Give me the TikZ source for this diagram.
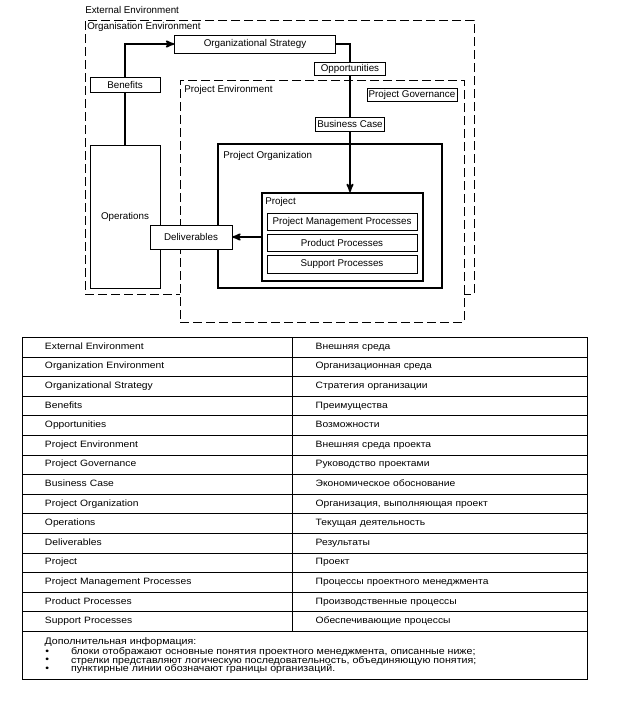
\documentclass[tikz,border=0pt]{standalone}
\usepackage{fontspec}
\setmainfont{Liberation Sans}
\newfontfamily\tabfont[FakeStretch=1.12]{Liberation Sans}
\usepackage{tikz}
\usetikzlibrary{arrows}

\begin{document}
\begin{tikzpicture}[x=1pt,y=-1pt,>=stealth',semithick,auto,node distance=19.6pt]
\tikzstyle{box}=[draw=black,fill=white,line width=0.7pt,inner sep=1pt]
\tikzstyle{env}=[draw=black,line width=0.9pt,dash pattern=on 9pt off 4pt]
\tikzstyle{frame}=[draw=black,fill=white,line width=1.8pt,inner sep=0pt]
\tikzstyle{flow}=[line width=1.8pt]
\tikzstyle{lbl}=[anchor=west,inner sep=0pt]
\tikzstyle{cell}=[inner sep=0pt,text width=240pt,align=left,text height=7pt,text depth=2.5pt,font=\tabfont\fontsize{9.2pt}{10}\selectfont]
\tikzset{font=\fontsize{9.8pt}{11}\selectfont}

\useasboundingbox (0,0) rectangle (619,702);

        % environments
        \node[env, minimum width=389pt, minimum height=274pt]              (orgenv)  at (279.5,157)  {};
        \node[env, fill=white, minimum width=284pt, minimum height=242pt]  (projenv) at (322,201)    {};
        \node[lbl]   (extlbl)  at (85,10)   {External Environment};
        \node[lbl]   (orglbl)  at (87,27)   {Organisation Environment};
        \node[lbl]   (projenvlbl) at (184,90) {Project Environment};

        % project organization and project
        \node[frame, minimum width=224pt, minimum height=144pt]   (porg)  at (330,216)   {};
        \node[lbl]   (porglbl)  at (223,156)  {Project Organization};
        \node[frame, minimum width=161pt, minimum height=88pt]    (proj)  at (342.5,237) {};
        \node[lbl]   (projlbl)  at (265,202)  {Project};
        \node[box, minimum width=150pt, minimum height=17pt]      (pmp)   at (342,221.5) {Project Management Processes};
        \node[box, minimum width=150pt, minimum height=17pt]      (prod)  at (342,242.5) {Product Processes};
        \node[box, minimum width=150pt, minimum height=18pt]      (supp)  at (342,264)   {Support Processes};

        % blocks
        \node[box, minimum width=161pt, minimum height=18pt]      (strategy) at (255,44)   {Organizational Strategy};
        \node[box, minimum width=71pt, minimum height=13pt]       (opp)      at (350,68.5) {Opportunities};
        \node[box, minimum width=90pt, minimum height=13pt]       (gov)      at (412,94.5) {Project Governance};
        \node[box, minimum width=69pt, minimum height=14pt]       (bcase)    at (350,124)  {Business Case};
        \node[box, minimum width=70pt, minimum height=15pt]       (benefits) at (125,84.5) {Benefits};
        \node[box, minimum width=70pt, minimum height=143pt]      (ops)      at (125,216.5) {Operations};
        \node[box, minimum width=82pt, minimum height=24pt]       (deliv)    at (191,237)  {Deliverables};

        % flows
        \draw[flow] (ops.north) -- (benefits.south);
        \draw[flow,->] (benefits.north) |- (strategy.west);
        \draw[flow] (strategy.east) -| (opp.north);
        \draw[flow] (opp.south) -- (bcase.north);
        \draw[flow,->] (bcase.south) -- (bcase.south |- proj.north);
        \draw[flow,->] (proj.west) -- (deliv.east);

        % table
        \draw[line width=0.9pt] (22.7,337.3) rectangle (587,679);
        \foreach \k in {1,...,15}
            \draw[line width=0.7pt] (22.7,337.3+19.6*\k) -- (587,337.3+19.6*\k);
        \draw[line width=0.7pt] (292.7,337.3) -- (292.7,631.3);

        \node[cell]   (e1)  at (165,347.1)  {External Environment};
        \node[cell]   (e2)  [below of=e1]   {Organization Environment};
        \node[cell]   (e3)  [below of=e2]   {Organizational Strategy};
        \node[cell]   (e4)  [below of=e3]   {Benefits};
        \node[cell]   (e5)  [below of=e4]   {Opportunities};
        \node[cell]   (e6)  [below of=e5]   {Project Environment};
        \node[cell]   (e7)  [below of=e6]   {Project Governance};
        \node[cell]   (e8)  [below of=e7]   {Business Case};
        \node[cell]   (e9)  [below of=e8]   {Project Organization};
        \node[cell]   (e10) [below of=e9]   {Operations};
        \node[cell]   (e11) [below of=e10]  {Deliverables};
        \node[cell]   (e12) [below of=e11]  {Project};
        \node[cell]   (e13) [below of=e12]  {Project Management Processes};
        \node[cell]   (e14) [below of=e13]  {Product Processes};
        \node[cell]   (e15) [below of=e14]  {Support Processes};

        \node[cell, node distance=270.7pt]   (r1)  [right of=e1]   {Внешняя среда};
        \node[cell, node distance=270.7pt]   (r2)  [right of=e2]   {Организационная среда};
        \node[cell, node distance=270.7pt]   (r3)  [right of=e3]   {Стратегия организации};
        \node[cell, node distance=270.7pt]   (r4)  [right of=e4]   {Преимущества};
        \node[cell, node distance=270.7pt]   (r5)  [right of=e5]   {Возможности};
        \node[cell, node distance=270.7pt]   (r6)  [right of=e6]   {Внешняя среда проекта};
        \node[cell, node distance=270.7pt]   (r7)  [right of=e7]   {Руководство проектами};
        \node[cell, node distance=270.7pt]   (r8)  [right of=e8]   {Экономическое обоснование};
        \node[cell, node distance=270.7pt]   (r9)  [right of=e9]   {Организация, выполняющая проект};
        \node[cell, node distance=270.7pt]   (r10) [right of=e10]  {Текущая деятельность};
        \node[cell, node distance=270.7pt]   (r11) [right of=e11]  {Результаты};
        \node[cell, node distance=270.7pt]   (r12) [right of=e12]  {Проект};
        \node[cell, node distance=270.7pt]   (r13) [right of=e13]  {Процессы проектного менеджмента};
        \node[cell, node distance=270.7pt]   (r14) [right of=e14]  {Производственные процессы};
        \node[cell, node distance=270.7pt]   (r15) [right of=e15]  {Обеспечивающие процессы};

        % notes
        \tikzset{font=\tabfont\fontsize{9.5pt}{10}\selectfont}
        \node[lbl]   (notes) at (44.3,642)  {Дополнительная информация:};
        \node[lbl]   (d1)    at (45,651.8)  {•};
        \node[lbl]   (n1)    at (70.7,651.8) {блоки отображают основные понятия проектного менеджмента, описанные ниже;};
        \node[lbl]   (d2)    at (45,660.6)  {•};
        \node[lbl]   (n2)    at (70.7,660.6) {стрелки представляют логическую последовательность, объединяющую понятия;};
        \node[lbl]   (d3)    at (45,669.3)  {•};
        \node[lbl]   (n3)    at (70.7,669.3) {пунктирные линии обозначают границы организаций.};

\end{tikzpicture}
\end{document}
